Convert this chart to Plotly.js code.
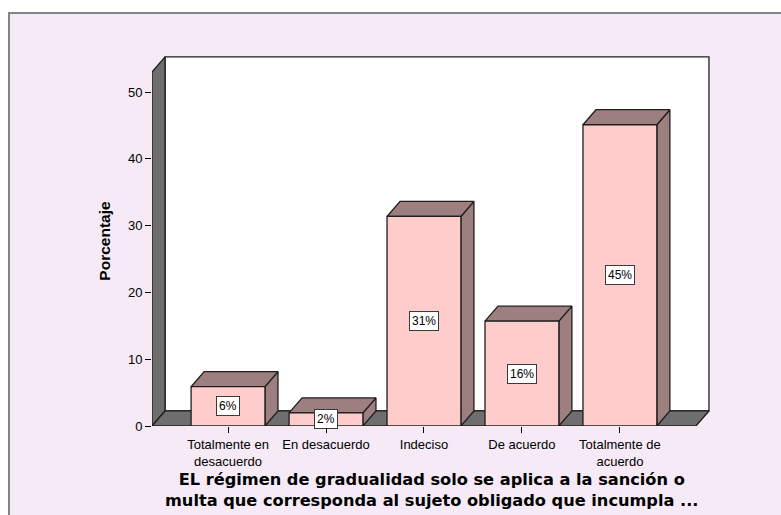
<!DOCTYPE html>
<html>
<head>
<meta charset="utf-8">
<script src="https://cdn.plot.ly/plotly-3.0.1.min.js"></script>
<style>
  html, body { margin: 0; padding: 0; background: #ffffff; width: 781px; height: 515px; overflow: hidden; }
  #frame { position: absolute; left: 8px; top: 12px; width: 771px; height: 501px;
           border-top: 2px solid #858585; border-left: 2px solid #858585; background: #f5eaf5; }
  #chart { width: 771px; height: 501px; }
</style>
</head>
<body>
<div id="frame"><div id="chart"></div></div>
<script>
// ---- data ----
var categories = ["Totalmente en<br>desacuerdo", "En desacuerdo", "Indeciso", "De acuerdo", "Totalmente de<br>acuerdo"];
var percentages = [5.88, 1.96, 31.37, 15.69, 45.10];
var barLabels = ["6%", "2%", "31%", "16%", "45%"];
var yTicks = [0, 10, 20, 30, 40, 50];
var xTitle = "EL régimen de gradualidad solo se aplica a la sanción o<br>multa que corresponda al sujeto obligado que incumpla ...";
var yTitle = "Porcentaje";

// ---- 3D styling constants ----
var DX = 0.133, DY = 2.25;          // depth offset in data units
var XMIN = -0.776, XMAXF = 4.776;   // front floor extent
var WALL_TOP = 53;
var HALF = 0.377;                   // half bar width
var FRONT = '#ffcccc', SHADE = '#9e7f7f', WALL = '#6e6e6e', EDGE = '#1e1e1e';
var SANS = 'Liberation Sans, Arial, sans-serif';
var WIDE = 'DejaVu Sans, Verdana, sans-serif';

function poly(xs, ys, fill) {
  return { type: 'scatter', mode: 'lines', x: xs.concat([xs[0]]), y: ys.concat([ys[0]]),
           fill: 'toself', fillcolor: fill, line: { color: EDGE, width: 1.3 },
           hoverinfo: 'skip', showlegend: false };
}

var traces = [];
// back wall
traces.push(poly([XMIN + DX, XMAXF + DX, XMAXF + DX, XMIN + DX],
                 [DY, DY, WALL_TOP + DY, WALL_TOP + DY], '#ffffff'));
// left wall
traces.push(poly([XMIN, XMIN, XMIN + DX, XMIN + DX], [0, WALL_TOP, WALL_TOP + DY, DY], WALL));
// floor
traces.push(poly([XMIN, XMAXF, XMAXF + DX, XMIN + DX], [0, 0, DY, DY], WALL));

// bars
percentages.forEach(function (v, i) {
  var l = i - HALF, r = i + HALF;
  traces.push(poly([r, r + DX, r + DX, r], [0, DY, v + DY, v], SHADE));          // side
  traces.push(poly([l, r, r + DX, l + DX], [v, v, v + DY, v + DY], SHADE));      // top
  traces.push(poly([l, r, r, l], [0, 0, v, v], FRONT));                          // front
});

var annotations = percentages.map(function (v, i) {
  return { x: i, y: v / 2, xref: 'x', yref: 'y', text: barLabels[i], showarrow: false,
           bgcolor: '#ffffff', bordercolor: '#3a3a3a', borderwidth: 1, borderpad: 2,
           font: { family: SANS, size: 12, color: '#000' } };
});
// x-axis title
annotations.push({ x: 0.5, y: -0.173, xref: 'paper', yref: 'paper', xanchor: 'center', yanchor: 'middle',
                   text: '<b>' + xTitle + '</b>', showarrow: false,
                   font: { family: WIDE, size: 16.2, color: '#000' } });

var layout = {
  width: 771, height: 501,
  margin: { l: 142, r: 69, t: 42, b: 89 },
  paper_bgcolor: '#f5eaf5', plot_bgcolor: 'rgba(0,0,0,0)',
  showlegend: false,
  font: { family: SANS, size: 13, color: '#000' },
  xaxis: {
    range: [XMIN, 4.94], tickmode: 'array', tickvals: [0, 1, 2, 3, 4], ticktext: categories,
    ticks: 'outside', ticklen: 6, tickcolor: '#000', tickwidth: 1,
    tickfont: { family: SANS, size: 13 },
    showgrid: false, zeroline: false, showline: false, fixedrange: true
  },
  yaxis: {
    range: [0, 55.39], tickmode: 'array', tickvals: yTicks,
    ticks: 'outside', ticklen: 6, tickcolor: '#000', tickwidth: 1,
    tickfont: { family: SANS, size: 13 },
    showgrid: false, zeroline: false, showline: false, fixedrange: true,
    title: { text: '<b>' + yTitle + '</b>', font: { family: SANS, size: 15.5, color: '#000' }, standoff: 13 }
  },
  annotations: annotations
};

Plotly.newPlot('chart', traces, layout, { displayModeBar: false, staticPlot: true });
</script>
</body>
</html>
